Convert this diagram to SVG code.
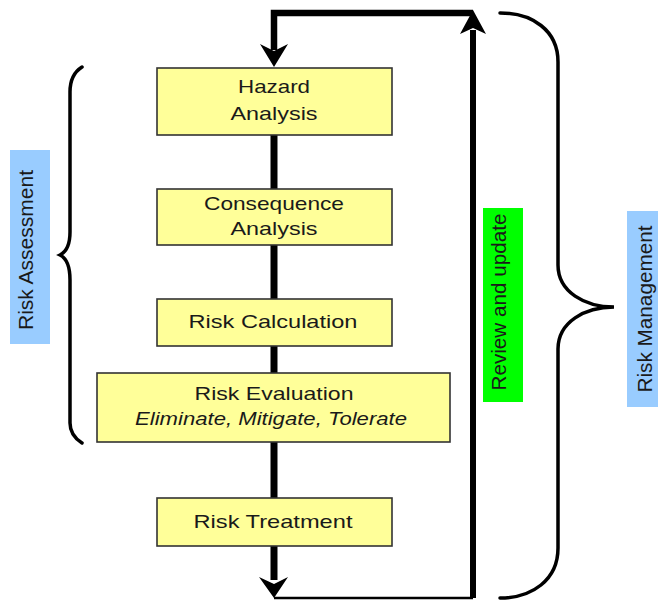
<svg xmlns="http://www.w3.org/2000/svg" width="658" height="600" viewBox="0 0 658 600">
<style>
.box{fill:#FFFF99;stroke:#333333;stroke-width:1.6}
.t{font-family:"Liberation Sans",Arial,sans-serif;font-size:19px;fill:#1a1a1a;text-anchor:middle}
.it{font-style:italic}
.v{font-family:"Liberation Sans",Arial,sans-serif;font-size:20px;fill:#1a1a1a;text-anchor:middle}
.brace{fill:none;stroke:#000;stroke-width:3.5;stroke-linecap:round}
.shaft{stroke:#000;stroke-width:7;fill:none}
</style>
<g id="labels">
<rect x="10" y="150" width="40" height="194" fill="#99CCFF"/>
<text class="v" transform="translate(33,250) rotate(-90)" textLength="160" lengthAdjust="spacingAndGlyphs">Risk Assessment</text>
<rect x="483" y="208" width="40" height="194" fill="#00FF00"/>
<text class="v" transform="translate(506,302) rotate(-90)" textLength="177" lengthAdjust="spacingAndGlyphs">Review and update</text>
<rect x="627" y="211" width="31" height="196" fill="#99CCFF"/>
<text class="v" transform="translate(652,309) rotate(-90)" textLength="167" lengthAdjust="spacingAndGlyphs">Risk Management</text>
</g>
<g id="braces">
<path class="brace" d="M82,67 C74,72 70,80 70,92 L70,232 C70,245 66,252 60,255 C66,258 70,266 70,280 L70,423 C70,432 74,438 82,443"/>
<path class="brace" d="M500,13 C532,13 558,30 558,62 L558,265 C558,292 585,307 614,307 C585,307 558,322 558,349 L558,548 C558,580 532,598 500,598"/>
</g>
<g id="connectors">
<line class="shaft" x1="274" y1="135" x2="274" y2="189"/>
<line class="shaft" x1="274" y1="245" x2="274" y2="299"/>
<line class="shaft" x1="274" y1="346" x2="274" y2="373"/>
<line class="shaft" x1="274" y1="442" x2="274" y2="498"/>
<path d="M274,546 L274,580" stroke="#000" stroke-width="7" fill="none"/>
<polygon points="274,598 259,577 274,584 288,577" fill="#000"/>
<path d="M274,598 L473,598" stroke="#000" stroke-width="2.5" fill="none"/>
<path d="M473,598 L473,30" stroke="#000" stroke-width="6" fill="none"/>
<polygon points="473,10 486,34 473,28 460,34" fill="#000"/>
<path d="M473,13 L274,13 L274,50" stroke="#000" stroke-width="6.5" fill="none" stroke-linejoin="miter"/>
<polygon points="274,67 260,44 274,51 288,44" fill="#000"/>
</g>
<g id="hazard">
<rect class="box" x="157" y="68" width="235" height="67"/>
<text class="t" x="274" y="93" textLength="72" lengthAdjust="spacingAndGlyphs">Hazard</text>
<text class="t" x="274" y="120" textLength="87" lengthAdjust="spacingAndGlyphs">Analysis</text>
</g>
<g id="consequence">
<rect class="box" x="157" y="189" width="235" height="56"/>
<text class="t" x="274" y="210" textLength="140" lengthAdjust="spacingAndGlyphs">Consequence</text>
<text class="t" x="274" y="235" textLength="87" lengthAdjust="spacingAndGlyphs">Analysis</text>
</g>
<g id="calculation">
<rect class="box" x="157" y="299" width="235" height="47"/>
<text class="t" x="273" y="328" textLength="169" lengthAdjust="spacingAndGlyphs">Risk Calculation</text>
</g>
<g id="evaluation">
<rect class="box" x="97" y="373" width="353" height="69"/>
<text class="t" x="274" y="400" textLength="159" lengthAdjust="spacingAndGlyphs">Risk Evaluation</text>
<text class="t it" x="271" y="425" textLength="272" lengthAdjust="spacingAndGlyphs">Eliminate, Mitigate, Tolerate</text>
</g>
<g id="treatment">
<rect class="box" x="157" y="498" width="235" height="48"/>
<text class="t" x="273" y="528" textLength="159" lengthAdjust="spacingAndGlyphs">Risk Treatment</text>
</g>
</svg>
